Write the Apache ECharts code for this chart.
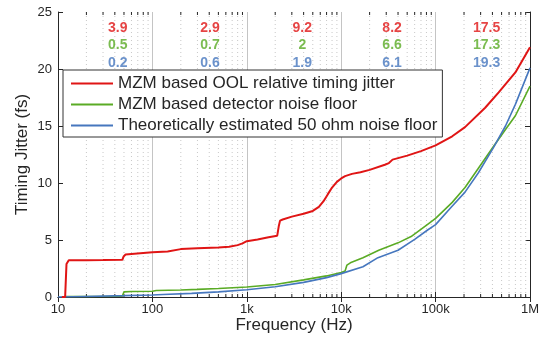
<!DOCTYPE html>
<html>
<head>
<meta charset="utf-8">
<script src="https://cdn.jsdelivr.net/npm/echarts@6/dist/echarts.min.js"></script>
<style>
  html, body { margin: 0; padding: 0; background: #fff; }
  #chart { width: 546px; height: 338px; }
</style>
</head>
<body>
<div id="chart"></div>
<script>
// OOL relative timing jitter (red)
const oolFreq = [11, 11.9, 12.3, 13, 20, 30, 48, 49.5, 52, 60, 80, 100, 145, 152, 200, 300, 500, 650, 800, 900,
  1000, 1300, 1700, 2100, 2180, 2250, 2400, 3000, 4000, 5000, 5800, 6500, 7200, 8000, 9000,
  10000, 11000, 13000, 16000, 20000, 29000, 32000, 35000, 50000, 70000,
  100000, 150000, 205000, 335000, 466000, 700000, 1000000]
const oolJitter = [0, 0, 2.9, 3.22, 3.23, 3.24, 3.26, 3.55, 3.72, 3.78, 3.86, 3.92, 4.0, 4.15, 4.2, 4.27, 4.35, 4.4, 4.55, 4.7,
  4.9, 5.05, 5.25, 5.38, 6.2, 6.7, 6.8, 7.05, 7.3, 7.55, 7.9, 8.4, 9.0, 9.6, 10.1,
  10.4, 10.6, 10.8, 10.95, 11.15, 11.6, 11.75, 12.05, 12.4, 12.8,
  13.3, 14.1, 14.9, 16.6, 17.95, 19.7, 21.9]

// detector noise floor (green)
const detFreq = [11, 12, 20, 48, 50, 60, 100, 110, 200, 300, 500, 1000, 2000, 4000, 7000,
  10000, 11000, 11500, 12500, 17000, 25000, 40000, 55000, 83000,
  100000, 150000, 205000, 284000, 410000, 550000, 700000, 1000000]
const detJitter = [0, 0.04, 0.05, 0.06, 0.45, 0.48, 0.5, 0.57, 0.62, 0.67, 0.74, 0.88, 1.1, 1.5, 1.85,
  2.15, 2.28, 2.8, 3.0, 3.45, 4.1, 4.75, 5.3, 6.4,
  6.9, 8.3, 9.6, 11.3, 13.2, 14.7, 15.9, 18.5]

// theoretical 50 ohm noise floor (blue)
const thFreq = [10, 20, 50, 100, 130, 260, 500, 1000, 2000, 4000, 7000,
  10000, 17000, 24500, 40000, 60000, 83000,
  100000, 147000, 205000, 284000, 410000, 550000, 700000, 1000000]
const thJitter = [0, 0.05, 0.12, 0.18, 0.22, 0.32, 0.45, 0.64, 0.9, 1.28, 1.7,
  2.05, 2.65, 3.45, 4.1, 5.05, 5.9,
  6.35, 7.9, 9.2, 10.9, 13.1, 15.0, 16.9, 20.1]

// per-decade numbers printed at the top
const decadeFreq = [43, 408, 3870, 34600, 347000]
const oolDecade = ['3.9', '2.9', '9.2', '8.2', '17.5']
const detDecade = ['0.5', '0.7', '2', '6.6', '17.3']
const thDecade = ['0.2', '0.6', '1.9', '6.1', '19.3']
const rowLevel = [23.55, 22.05, 20.5]

const minorFreq = []
;[10, 100, 1000, 10000, 100000].forEach((d) => {
  for (let k = 2; k <= 9; k++) minorFreq.push(d * k)
})

const tickText = { 10: '10', 100: '100', 1000: '1k', 10000: '10k', 100000: '100k', 1000000: '1M' }

const RED = '#e01515'
const GREEN = '#5aab25'
const BLUE = '#4677be'
const FONT = 'Liberation Sans, Arial, sans-serif'

const zip = (xs, ys) => xs.map((x, i) => [x, ys[i]])

const decadeLabels = (texts, level, color) => ({
  type: 'scatter',
  symbolSize: 0,
  silent: true,
  data: decadeFreq.map((f, i) => [f, level, texts[i]]),
  label: {
    show: true,
    position: 'inside',
    formatter: (p) => p.data[2],
    color: color,
    fontWeight: 'bold',
    fontSize: 14,
    fontFamily: FONT,
  },
})

const chart = echarts.init(document.getElementById('chart'))

const axisCommon = {
  type: 'log',
  logBase: 10,
  min: 10,
  max: 1000000,
  axisLine: { show: true, lineStyle: { color: '#262626', width: 1 } },
  axisTick: { show: true, inside: true, length: 5, lineStyle: { color: '#262626' } },
}

const yCommon = {
  type: 'value',
  min: 0,
  max: 25,
  interval: 5,
  axisLine: { show: true, lineStyle: { color: '#262626', width: 1 } },
  axisTick: { show: true, inside: true, length: 5, lineStyle: { color: '#262626' } },
  splitLine: { show: false },
}

const option = {
  animation: false,
  backgroundColor: '#fff',
  grid: { left: 58, right: 16, top: 12, bottom: 41, outerBoundsMode: 'none' },
  legend: {
    data: [
      'MZM based OOL relative timing jitter',
      'MZM based detector noise floor',
      'Theoretically estimated 50 ohm noise floor',
    ],
    orient: 'vertical',
    left: 63,
    top: 70,
    icon: 'rect',
    itemWidth: 42,
    itemHeight: 2,
    itemGap: 4,
    padding: [5, 5, 3, 8],
    borderColor: '#333',
    borderWidth: 1,
    backgroundColor: '#fff',
    textStyle: { fontSize: 17, fontFamily: FONT, color: '#262626' },
  },
  xAxis: [
    {
      ...axisCommon,
      position: 'bottom',
      name: 'Frequency (Hz)',
      nameLocation: 'middle',
      nameGap: 20,
      nameMoveOverlap: false,
      nameTextStyle: { fontSize: 17, fontFamily: FONT, color: '#262626' },
      axisLabel: {
        fontSize: 13,
        fontFamily: FONT,
        color: '#262626',
        margin: 6,
        formatter: (v) => tickText[Math.round(v)] || '',
      },
      splitLine: { show: true, lineStyle: { color: '#c4c4c4', width: 1 } },
    },
    {
      ...axisCommon,
      position: 'top',
      axisLabel: { show: false },
      splitLine: { show: false },
    },
  ],
  yAxis: [
    {
      ...yCommon,
      position: 'left',
      name: 'Timing Jitter (fs)',
      nameLocation: 'middle',
      nameGap: 27,
      nameMoveOverlap: false,
      nameTextStyle: { fontSize: 17, fontFamily: FONT, color: '#262626' },
      axisLabel: { fontSize: 13, fontFamily: FONT, color: '#262626', margin: 6 },
    },
    {
      ...yCommon,
      position: 'right',
      axisLabel: { show: false },
    },
  ],
  series: [
    {
      type: 'custom',
      silent: true,
      z: 1,
      data: minorFreq,
      renderItem: (params, api) => {
        const f = api.value(0)
        const b = api.coord([f, 0])
        const t = api.coord([f, 25])
        return {
          type: 'group',
          children: [
            {
              type: 'line',
              shape: { x1: b[0], y1: b[1], x2: t[0], y2: t[1] },
              style: { stroke: '#c8c8c8', lineWidth: 1, lineDash: [1, 3] },
            },
            {
              type: 'line',
              shape: { x1: b[0], y1: b[1], x2: b[0], y2: b[1] - 3 },
              style: { stroke: '#262626', lineWidth: 1 },
            },
            {
              type: 'line',
              shape: { x1: t[0], y1: t[1], x2: t[0], y2: t[1] + 3 },
              style: { stroke: '#262626', lineWidth: 1 },
            },
          ],
        }
      },
    },
    {
      name: 'MZM based OOL relative timing jitter',
      type: 'line',
      symbol: 'none',
      z: 5,
      lineStyle: { color: RED, width: 2 },
      itemStyle: { color: RED },
      data: zip(oolFreq, oolJitter),
    },
    {
      name: 'MZM based detector noise floor',
      type: 'line',
      symbol: 'none',
      z: 4,
      lineStyle: { color: GREEN, width: 1.6 },
      itemStyle: { color: GREEN },
      data: zip(detFreq, detJitter),
    },
    {
      name: 'Theoretically estimated 50 ohm noise floor',
      type: 'line',
      symbol: 'none',
      z: 4,
      lineStyle: { color: BLUE, width: 1.6 },
      itemStyle: { color: BLUE },
      data: zip(thFreq, thJitter),
    },
    decadeLabels(oolDecade, rowLevel[0], RED),
    decadeLabels(detDecade, rowLevel[1], GREEN),
    decadeLabels(thDecade, rowLevel[2], BLUE),
  ],
}

chart.setOption(option)
</script>
</body>
</html>
